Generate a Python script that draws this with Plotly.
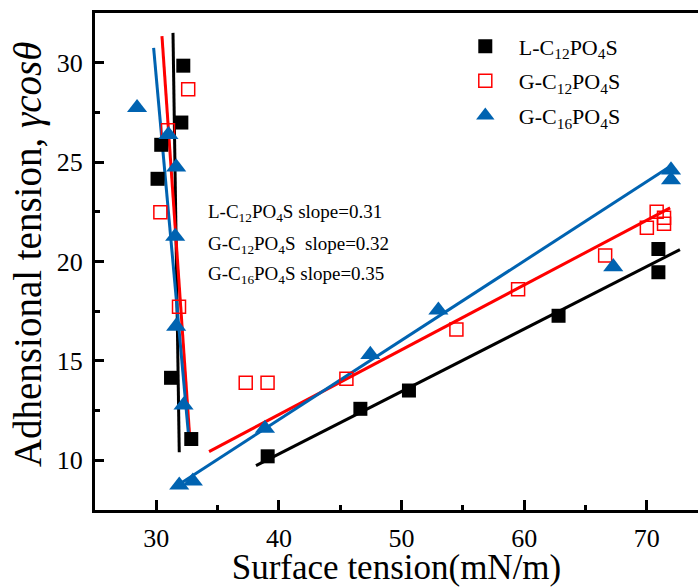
import plotly.graph_objects as go

# ---- data ----
L12_x = [32.2, 32.04, 30.4, 30.1, 31.2, 32.85, 39.08, 46.64, 50.6, 62.8, 70.94, 70.94]
L12_y = [29.85, 26.99, 25.87, 24.16, 14.15, 11.07, 10.2, 12.59, 13.51, 17.27, 20.63, 19.46]

G12_x = [32.6, 30.95, 30.33, 31.85, 37.29, 39.07, 45.5, 54.47, 59.5, 66.6, 70.0, 70.8, 71.4, 71.4]
G12_y = [28.67, 26.6, 22.48, 17.72, 13.9, 13.9, 14.1, 16.58, 18.6, 20.3, 21.7, 22.5, 22.2, 21.9]

G16_x = [28.43, 30.99, 31.62, 31.54, 31.62, 32.22, 31.87, 32.98, 38.86, 47.45, 53.0, 67.26, 71.97, 71.97]
G16_y = [27.74, 26.38, 24.75, 21.26, 16.74, 12.77, 8.75, 8.95, 11.6, 15.32, 17.55, 19.73, 24.6, 24.1]

# fitted lines (end points)
L12_steep_x = [31.36, 31.87]
L12_steep_y = [31.5, 10.4]
G12_steep_x = [30.46, 32.77]
G12_steep_y = [31.34, 10.76]
G16_steep_x = [29.78, 32.69]
G16_steep_y = [30.75, 10.84]

L12_fit_x = [38.13, 72.7]
L12_fit_y = [9.73, 20.6]
G12_fit_x = [34.3, 71.9]
G12_fit_y = [10.44, 22.7]
G16_fit_x = [32.0, 71.7]
G16_fit_y = [8.85, 24.7]

names = ["L-C<sub>12</sub>PO<sub>4</sub>S", "G-C<sub>12</sub>PO<sub>4</sub>S", "G-C<sub>16</sub>PO<sub>4</sub>S"]
slope_texts = [
    "L-C<sub>12</sub>PO<sub>4</sub>S slope=0.31",
    "G-C<sub>12</sub>PO<sub>4</sub>S\u00a0\u00a0slope=0.32",
    "G-C<sub>16</sub>PO<sub>4</sub>S slope=0.35",
]
slope_x = [34.07, 34.07, 34.07]
slope_y = [22.42, 20.83, 19.31]

x_ticks = [30, 40, 50, 60, 70]
y_ticks = [10, 15, 20, 25, 30]

x_title = "Surface tension(mN/m)"
y_title = "Adhensional tension, <i>γcosθ</i>"

BLACK = "#000000"
RED = "#ff0000"
BLUE = "#0063b1"
FONT = "Liberation Serif"

fig = go.Figure()

# lines (drawn first, under markers)
for xs, ys, c in [
    (L12_steep_x, L12_steep_y, BLACK), (G12_steep_x, G12_steep_y, RED), (G16_steep_x, G16_steep_y, BLUE),
    (L12_fit_x, L12_fit_y, BLACK), (G12_fit_x, G12_fit_y, RED), (G16_fit_x, G16_fit_y, BLUE),
]:
    fig.add_trace(go.Scatter(x=xs, y=ys, mode="lines", line=dict(color=c, width=3),
                             showlegend=False, hoverinfo="skip"))

fig.add_trace(go.Scatter(x=L12_x, y=L12_y, mode="markers", name=names[0], legendgroup="a",
                         marker=dict(symbol="square", size=14, color=BLACK, line=dict(width=0))))
fig.add_trace(go.Scatter(x=G12_x, y=G12_y, mode="markers", name=names[1], legendgroup="b",
                         marker=dict(symbol="square-open", size=13, color=RED, line=dict(width=1.5, color=RED))))
fig.add_trace(go.Scatter(x=G16_x, y=G16_y, mode="markers", name=names[2], legendgroup="c",
                         marker=dict(symbol="triangle-up", size=17.5, color=BLUE, line=dict(width=0))))

for t, xx, yy in zip(slope_texts, slope_x, slope_y):
    fig.add_annotation(x=xx, y=yy, xref="x", yref="y", text=t, showarrow=False,
                       xanchor="left", yanchor="middle", font=dict(family=FONT, size=19, color="black"))

# y axis title (rotated text)
fig.add_annotation(x=-0.111, y=0.515, xref="paper", yref="paper", text=y_title, showarrow=False,
                   textangle=-90, xanchor="center", yanchor="middle",
                   font=dict(family=FONT, size=39, color="black"))

fig.update_layout(
    width=698, height=587,
    margin=dict(l=95, r=0, t=13, b=77, autoexpand=False),
    plot_bgcolor="white", paper_bgcolor="white",
    font=dict(family=FONT, color="black"),
    legend=dict(x=0.5917, y=0.975, xanchor="left", yanchor="top", bgcolor="rgba(0,0,0,0)",
                borderwidth=0, font=dict(family=FONT, size=22, color="black"),
                itemwidth=57, tracegroupgap=3),
    xaxis=dict(range=[25, 74.17], showgrid=False, zeroline=False, automargin=False,
               showline=True, linecolor="black", linewidth=3, mirror=True,
               tickmode="array", tickvals=x_ticks, ticktext=[str(v) for v in x_ticks],
               ticks="inside", ticklen=10, tickwidth=2.5, tickcolor="black",
               minor=dict(ticks="inside", ticklen=5, tickwidth=2.5, tickcolor="black", dtick=5, tick0=0),
               tickfont=dict(family=FONT, size=26, color="black"), ticklabelstandoff=3,
               title=dict(text=x_title, font=dict(family=FONT, size=35, color="black"), standoff=25)),
    yaxis=dict(range=[7.5, 32.5], showgrid=False, zeroline=False, automargin=False,
               showline=True, linecolor="black", linewidth=3, mirror=False,
               tickmode="array", tickvals=y_ticks, ticktext=[str(v) for v in y_ticks],
               ticks="inside", ticklen=9, tickwidth=2.5, tickcolor="black",
               minor=dict(ticks="inside", ticklen=5, tickwidth=2.5, tickcolor="black", dtick=2.5, tick0=0),
               tickfont=dict(family=FONT, size=26, color="black"), ticklabelstandoff=4),
)

fig.write_html("out.html", config={"displayModeBar": False},
               post_script="document.body.style.margin='0';document.body.style.overflow='hidden';")
